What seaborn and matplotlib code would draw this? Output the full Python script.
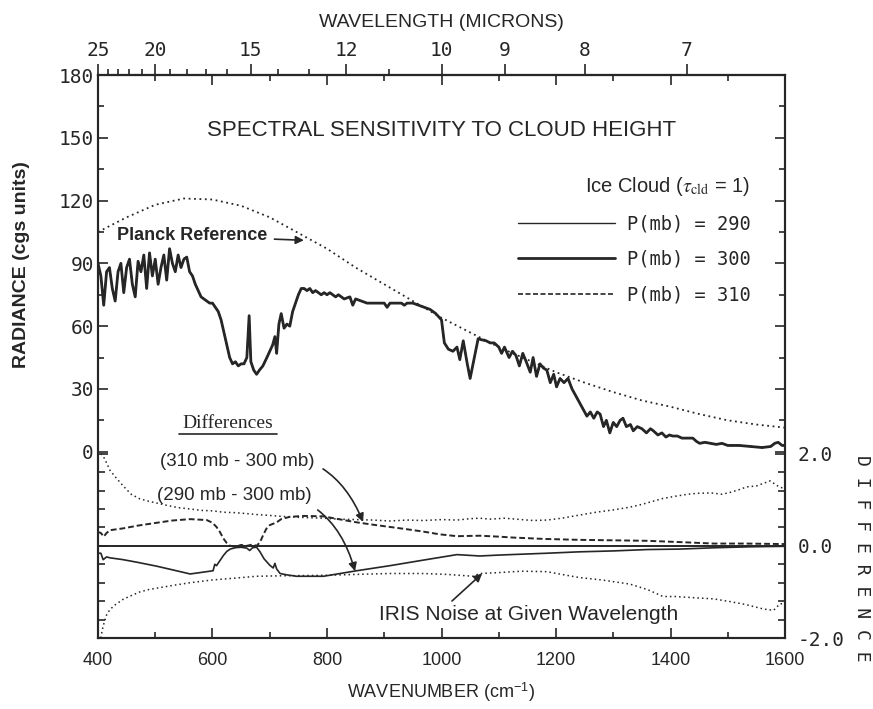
import numpy as np
import matplotlib
matplotlib.use("Agg")
import matplotlib.pyplot as plt
import seaborn as sns
from matplotlib.ticker import FixedLocator, MultipleLocator
from matplotlib.lines import Line2D

# ─── DATA ──────────────────────────────────────────────────────────────────────
# Planck reference curve (dotted)
PLANCK_WN  = [400, 450, 500, 550, 600, 650, 700, 750, 800, 850, 900, 950, 1000,
              1050, 1100, 1150, 1200, 1250, 1300, 1350, 1400, 1450, 1500, 1550, 1600]
PLANCK_RAD = [105, 112, 118, 121, 120.5, 117.5, 112, 104.5, 97, 88, 80, 72, 64,
              57, 50, 44, 38, 33, 28.5, 24.5, 21.5, 18, 15, 13, 11.5]

# Ice cloud spectrum, P = 300 mb (290 / 310 overlap it at this scale)
SPEC_WN = [400, 405, 410, 415, 420, 425, 430, 435, 440, 445, 450, 455, 460, 465, 470,
           475, 480, 485, 490, 495, 500, 505, 510, 515, 520, 525, 530, 535, 540, 545,
           550, 555, 560, 565, 570, 575, 580, 585, 590, 595, 600,
           605, 610, 615, 620, 625, 630, 635, 640, 645, 650, 655, 660, 664, 667, 672,
           677, 682, 688, 695, 700,
           705, 709, 712, 716, 720, 725, 730, 735, 740, 745, 750, 755, 760, 765, 770,
           775, 780, 790, 795, 800, 805, 815, 820, 830, 840, 845, 850, 860, 870, 880,
           890, 900, 905, 910, 920, 930, 935, 940, 950, 960, 970, 980, 990, 1000,
           1005, 1012, 1020, 1027, 1032, 1038, 1045, 1050, 1058, 1064, 1070, 1078, 1085,
           1092, 1100, 1105, 1110, 1118, 1124, 1130, 1136, 1142, 1148, 1155, 1160, 1166,
           1172, 1178, 1184, 1190, 1196, 1201, 1207, 1214, 1221, 1228, 1236, 1242, 1248,
           1254, 1260, 1266, 1272, 1277, 1283, 1288, 1294, 1300,
           1306, 1312, 1317, 1323, 1330, 1335, 1342, 1350, 1358, 1365, 1370, 1378, 1385,
           1392, 1398, 1404, 1412, 1420, 1430, 1439, 1445, 1451, 1460, 1470, 1480, 1490,
           1500, 1520, 1540, 1560, 1575, 1582, 1588, 1595, 1600]
SPEC_RAD = [90, 84, 70, 86, 88, 78, 72, 86, 90, 76, 88, 92, 80, 74, 91,
            86, 94, 78, 95, 84, 92, 80, 88, 94, 82, 97, 90, 86, 94, 88,
            92, 93, 86, 84, 80, 77, 74, 73, 72, 71, 71,
            69, 67, 63, 57, 51, 45, 42, 43, 41, 42, 42, 45, 65, 43, 39,
            37, 39, 41, 45, 48,
            51, 55, 47, 61, 66, 59, 61, 60, 67, 71, 75, 78, 78, 77, 78,
            76, 77, 75, 76, 75, 76, 74, 75, 73, 74, 70, 73, 72, 71, 71,
            71, 71, 69, 71, 71, 71, 70, 71, 71, 70, 69, 68, 66, 63,
            52, 49, 48, 50, 44, 53, 42, 35, 46, 54, 53.5, 53, 52,
            52, 50, 47, 50, 45, 48, 46, 41, 47, 43, 38, 45, 36,
            42, 40, 39, 33, 37, 31, 35, 33, 35, 30, 26, 23, 20,
            17, 19, 16, 19, 18, 12, 15, 9, 14,
            12, 15, 16, 12, 13, 10, 12, 11, 9, 11, 10, 8, 9,
            7, 8, 7.5, 7.5, 6.5, 6.5, 6.5, 5, 4, 4.5, 4, 3.5, 4,
            3, 3, 2.5, 2, 2.5, 4, 4.5, 3, 3]

# IRIS noise envelope (dotted), difference units
NOISE_UP_WN = [405, 409, 415, 421, 430, 444, 458, 473, 488, 502, 520, 540, 561, 580, 600,
               619, 640, 660, 677, 700, 720, 750, 794, 820, 850, 880, 910, 940, 968, 1000,
               1027, 1050, 1067, 1085, 1110, 1140, 1160, 1184, 1210, 1242, 1270, 1300, 1329,
               1350, 1370, 1387, 1410, 1430, 1446, 1470, 1490, 1504, 1520, 1533, 1550, 1574,
               1591, 1600]
NOISE_UP = [2.0, 1.95, 1.8, 1.64, 1.5, 1.3, 1.12, 1.02, 0.97, 0.93, 0.88, 0.83, 0.8, 0.77, 0.76,
            0.73, 0.72, 0.7, 0.68, 0.66, 0.64, 0.62, 0.6, 0.58, 0.57, 0.56, 0.54, 0.56, 0.55, 0.57,
            0.56, 0.59, 0.6, 0.58, 0.6, 0.57, 0.55, 0.56, 0.6, 0.67, 0.73, 0.78, 0.84,
            0.9, 0.97, 1.03, 1.08, 1.12, 1.14, 1.15, 1.12, 1.16, 1.22, 1.28, 1.3, 1.41,
            1.27, 1.25]
NOISE_LO_WN = [405, 407, 410, 415, 421, 430, 444, 458, 473, 488, 502, 530, 561, 600, 640,
               677, 720, 794, 850, 910, 968, 1010, 1055, 1067, 1100, 1140, 1184, 1210, 1242,
               1280, 1329, 1360, 1387, 1410, 1446, 1475, 1504, 1530, 1562, 1580, 1591, 1600]
NOISE_LO = [-2.0, -1.85, -1.7, -1.5, -1.38, -1.28, -1.16, -1.08, -1.0, -0.95, -0.92, -0.86,
            -0.8, -0.74, -0.7, -0.66, -0.65, -0.64, -0.62, -0.6, -0.6, -0.62, -0.66, -0.6,
            -0.58, -0.55, -0.56, -0.62, -0.69, -0.74, -0.83, -0.95, -1.1, -1.1, -1.13, -1.15,
            -1.21, -1.27, -1.37, -1.4, -1.26, -1.25]

# (310 mb - 300 mb), dashed
D310_WN = [400, 405, 410, 415, 421, 444, 470, 502, 530, 561, 590, 600, 607, 613, 619, 625,
           631, 640, 650, 660, 670, 677, 683, 688, 694, 700, 712, 720, 735, 760, 794, 820,
           852, 880, 910, 940, 968, 997, 1027, 1067, 1100, 1125, 1180, 1242, 1300, 1358,
           1420, 1475, 1530, 1591, 1600]
D310 = [0.3, 0.28, 0.2, 0.28, 0.34, 0.38, 0.44, 0.5, 0.55, 0.58, 0.56, 0.5, 0.41, 0.3, 0.16,
        0.06, 0.0, -0.02, 0.02, 0.0, 0.03, 0.0, 0.08, 0.22, 0.37, 0.45, 0.51, 0.58, 0.63, 0.65,
        0.64, 0.58, 0.51, 0.46, 0.41, 0.36, 0.31, 0.25, 0.21, 0.22, 0.2, 0.18, 0.15, 0.13,
        0.12, 0.11, 0.08, 0.05, 0.05, 0.04, 0.04]

# (290 mb - 300 mb), thin solid
D290_WN = [400, 405, 409, 415, 421, 444, 470, 502, 530, 561, 590, 601, 604, 607, 613, 619,
           625, 631, 640, 650, 660, 665, 670, 677, 683, 690, 700, 706, 709, 712, 718, 730,
           747, 794, 852, 910, 968, 1027, 1067, 1100, 1184, 1240, 1300, 1360, 1416, 1480,
           1540, 1600]
D290 = [-0.16, -0.16, -0.3, -0.24, -0.26, -0.3, -0.36, -0.44, -0.52, -0.61, -0.56, -0.54,
        -0.4, -0.43, -0.32, -0.21, -0.12, -0.07, -0.04, -0.03, -0.05, -0.1, -0.04, -0.03,
        -0.13, -0.28, -0.42, -0.48, -0.38, -0.5, -0.6, -0.63, -0.66, -0.66, -0.54, -0.43,
        -0.31, -0.19, -0.22, -0.2, -0.16, -0.13, -0.11, -0.08, -0.07, -0.04, -0.02, -0.01]

WN_MAJOR  = [400, 600, 800, 1000, 1200, 1400, 1600]
RAD_TICKS = [0, 30, 60, 90, 120, 150, 180]
UM_TICKS  = [25, 20, 15, 12, 10, 9, 8, 7]
UM_MINOR  = [24, 23, 22, 21, 19, 18, 17, 16, 14, 13, 11]
DIFF_TICKS = [-2.0, 0.0, 2.0]

INK = "#262626"
MONO = ["DejaVu Sans Mono"]

# ─── STYLE ─────────────────────────────────────────────────────────────────────
sns.set_theme(style="white")
plt.rcParams["font.family"] = ["Liberation Sans", "DejaVu Sans"]
plt.rcParams["mathtext.fontset"] = "stix"
plt.rcParams["axes.edgecolor"] = INK
plt.rcParams["text.color"] = INK
plt.rcParams["xtick.color"] = INK
plt.rcParams["ytick.color"] = INK

fig = plt.figure(figsize=(8.73, 7.09), dpi=100)
fig.subplots_adjust(left=98 / 873, right=785 / 873, top=1 - 75 / 709, bottom=1 - 638 / 709)
ax = fig.add_subplot(111)
ax2 = ax.twinx()

# ─── UPPER PANEL: radiance ─────────────────────────────────────────────────────
sns.lineplot(x=PLANCK_WN, y=PLANCK_RAD, ax=ax, color=INK, lw=1.3,
             linestyle=(0, (1, 2)))
sns.lineplot(x=SPEC_WN, y=SPEC_RAD, ax=ax, color=INK, lw=1.0)
sns.lineplot(x=SPEC_WN, y=SPEC_RAD, ax=ax, color=INK, lw=2.0)
sns.lineplot(x=SPEC_WN, y=SPEC_RAD, ax=ax, color=INK, lw=1.0, linestyle=(0, (3, 1.5)))

ax.set_xlim(400, 1600)
ax.set_ylim(-89, 180)
ax.set_xticks(WN_MAJOR)
ax.set_xticklabels([str(v) for v in WN_MAJOR], fontsize=13)
ax.xaxis.set_minor_locator(MultipleLocator(100))
ax.set_yticks(RAD_TICKS)
ax.set_yticklabels([str(v) for v in RAD_TICKS], fontsize=14, family=MONO)
ax.yaxis.set_minor_locator(FixedLocator([15, 45, 75, 105, 135, 165]))
ax.tick_params(which="both", direction="in", top=True, right=True, left=True, bottom=True,
               color=INK, width=1.2)
ax.tick_params(which="major", length=7)
ax.tick_params(which="minor", length=4)
ax.tick_params(axis="x", which="major", pad=10)
ax.tick_params(axis="y", which="major", pad=3)
ax.set_xlabel("WAVENUMBER (cm$^{\\mathregular{-1}}$)", fontsize=13, labelpad=8)
for sp in ax.spines.values():
    sp.set_linewidth(1.5)

# wavelength axis on top
def wn_to_um(x):
    x = np.asarray(x, dtype=float)
    with np.errstate(divide="ignore", invalid="ignore"):
        return 1e4 / x

secax = ax.secondary_xaxis("top", functions=(wn_to_um, wn_to_um))
secax.set_xticks(UM_TICKS)
secax.set_xticklabels([str(v) for v in UM_TICKS], fontsize=14, family=MONO)
secax.xaxis.set_minor_locator(FixedLocator(UM_MINOR))
secax.tick_params(which="both", direction="out", color=INK, width=1.2)
secax.tick_params(which="major", length=8, pad=3)
secax.tick_params(which="minor", length=4)
secax.set_xlabel("WAVELENGTH (MICRONS)", fontsize=14, labelpad=10)
secax.spines["top"].set_linewidth(1.5)

fig.text(22 / 873, 1 - 265 / 709, "RADIANCE (cgs units)", rotation=90, fontsize=14,
         weight="bold", ha="center", va="center")

ax.text(0.5, 0.902, "SPECTRAL SENSITIVITY TO CLOUD HEIGHT", transform=ax.transAxes,
        fontsize=16, ha="center", va="center")

ax.annotate("Planck Reference", xy=(762, 101), xycoords="data",
            xytext=(267 / 873, 1 - 236 / 709), textcoords="figure fraction",
            ha="right", va="center", fontsize=13, weight="bold",
            arrowprops=dict(arrowstyle="-|>", color=INK, lw=1.2, mutation_scale=12,
                            shrinkA=3, shrinkB=1))

# legend
handles = [Line2D([], [], color=INK, lw=1.0),
           Line2D([], [], color=INK, lw=2.0),
           Line2D([], [], color=INK, lw=1.2, linestyle=(0, (3, 1.5)))]
labels = ["P(mb) = 290", "P(mb) = 300", "P(mb) = 310"]
leg = ax.legend(handles, labels, loc="upper right", bbox_to_anchor=(0.974, 0.853),
                frameon=False, handlelength=5.2, handletextpad=0.6, labelspacing=0.88,
                prop={"family": "DejaVu Sans Mono", "size": 13.5},
                title="Ice Cloud ($\\tau_{\\mathrm{cld}}$ = 1)",
                title_fontproperties={"size": 14.5}, alignment="right")
for t in leg.get_texts():
    t.set_color(INK)

# ─── LOWER PANEL: differences ──────────────────────────────────────────────────
ax2.axhline(0, color=INK, lw=1.4)
sns.lineplot(x=NOISE_UP_WN, y=NOISE_UP, ax=ax2, color=INK, lw=1.1, linestyle=(0, (1, 2)))
sns.lineplot(x=NOISE_LO_WN, y=NOISE_LO, ax=ax2, color=INK, lw=1.1, linestyle=(0, (1, 2)))
sns.lineplot(x=D310_WN, y=D310, ax=ax2, color=INK, lw=1.4, linestyle=(0, (3, 1.5)))
sns.lineplot(x=D290_WN, y=D290, ax=ax2, color=INK, lw=1.2)

ax2.set_ylim(-2.0, 10.22)
ax2.set_yticks(DIFF_TICKS)
ax2.set_yticklabels(["-2.0", "0.0", "2.0"], fontsize=14, family=MONO)
ax2.yaxis.set_minor_locator(FixedLocator([-1.6, -1.2, -0.8, -0.4, 0.4, 0.8, 1.2, 1.6]))
ax2.tick_params(which="both", direction="in", left=True, right=True, labelleft=False,
                labelright=True, color=INK, width=1.2)
ax2.tick_params(which="major", length=7, pad=9)
ax2.tick_params(which="minor", length=5)
for sp in ax2.spines.values():
    sp.set_linewidth(1.5)

fig.text(862 / 873, 1 - 558 / 709, "D I F F E R E N C E", rotation=270, fontsize=13,
         family=MONO, ha="center", va="center")

# "Differences" heading, underlined
ax2.text(228 / 873, 1 - 423 / 709, "Differences", transform=fig.transFigure,
         family=["Liberation Serif"], fontsize=14, ha="center", va="center")
ax2.annotate("", xy=(277 / 873, 1 - 434 / 709), xycoords="figure fraction",
             xytext=(179 / 873, 1 - 434 / 709), textcoords="figure fraction",
             arrowprops=dict(arrowstyle="-", color=INK, lw=1.2, shrinkA=0, shrinkB=0))

ax2.annotate("(310 mb - 300 mb)", xy=(863, 0.52), xycoords="data",
             xytext=(315 / 873, 1 - 462 / 709), textcoords="figure fraction",
             ha="right", va="center", fontsize=13.5,
             arrowprops=dict(arrowstyle="-|>", color=INK, lw=1.2, mutation_scale=12,
                             connectionstyle="arc3,rad=-0.45", shrinkA=4, shrinkB=0))
ax2.annotate("(290 mb - 300 mb)", xy=(849, -0.55), xycoords="data",
             xytext=(312 / 873, 1 - 495 / 709), textcoords="figure fraction",
             ha="right", va="center", fontsize=13.5,
             arrowprops=dict(arrowstyle="-|>", color=INK, lw=1.2, mutation_scale=12,
                             connectionstyle="arc3,rad=-0.45", shrinkA=4, shrinkB=0))

fig.text(529 / 873, 1 - 615 / 709, "IRIS Noise at Given Wavelength", fontsize=15,
         ha="center", va="center")
ax2.annotate("", xy=(1071, -0.6), xycoords="data",
             xytext=(452 / 873, 1 - 601 / 709), textcoords="figure fraction",
             arrowprops=dict(arrowstyle="-|>", color=INK, lw=1.2, mutation_scale=12,
                             shrinkA=0, shrinkB=0))

fig.savefig("out.png", dpi=100, facecolor="white")
